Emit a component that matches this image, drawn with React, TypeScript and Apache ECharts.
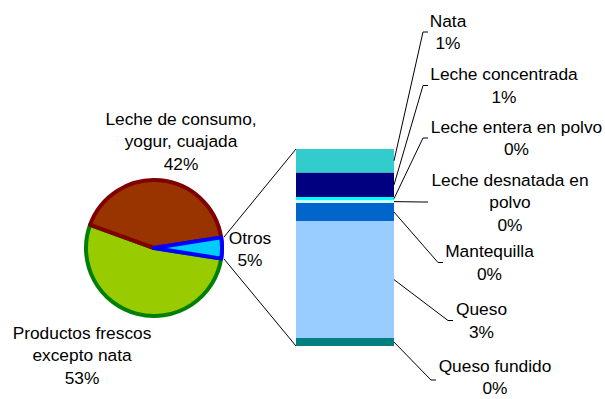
import React, { useEffect, useRef } from 'react';
import * as echarts from 'echarts';

// Pie (main breakdown), drawn clockwise from the "Otros" slice
const pieCategories = ['Otros', 'Productos frescos\nexcepto nata', 'Leche de consumo,\nyogur, cuajada'];
const pieValues = [5, 53, 42];
const pieColors = ['#00CCFF', '#99CC00', '#993300'];
const pieBorderColors = ['#0000FF', '#008000', '#800000'];

// Breakdown of "Otros" (top to bottom of the stacked bar)
const barCategories = [
  'Nata',
  'Leche concentrada',
  'Leche entera en polvo',
  'Leche desnatada en\npolvo',
  'Mantequilla',
  'Queso',
  'Queso fundido',
];
const barValues = [0.6, 0.62, 0.08, 0.07, 0.46, 2.97, 0.2];
const barColors = ['#33CCCC', '#000080', '#00FFFF', '#CCFFFF', '#0066CC', '#99CCFF', '#008080'];

// Layout (label centres and leader-line ends)
const pieCenter = [154, 248];
const pieRadius = 68;
const pieBorder = 4;
const pieLabelPos = [
  [250, 249],
  [82, 355],
  [181, 141],
];
const barLabelPos = [
  [448, 32, 428],
  [504, 85.5, 428],
  [516.5, 138, 428],
  [510, 202, 428],
  [489.5, 262.5, 443],
  [481.5, 320.5, 453],
  [495, 377, 436],
];

const FONT = '"Liberation Sans", Arial, sans-serif';
const FS = 17.33;
const LH = 22.5;

export default function App() {
  const ref = useRef<HTMLDivElement>(null);
  useEffect(() => {
    if (!ref.current) return;
    const chart = echarts.init(ref.current, null, { renderer: 'svg' });
    const pieTotal = pieValues.reduce((a, b) => a + b, 0);
    const otrosShare = pieValues[0] / pieTotal;
    const startAngle = otrosShare * 180;
    const barTotal = barValues.reduce((a, b) => a + b, 0);
    const stackData = barValues.map((v, i) => {
      let below = 0;
      for (let j = i + 1; j < barValues.length; j++) below += barValues[j];
      return [below, below + v];
    });
    const half = otrosShare * Math.PI;
    const R = pieRadius + pieBorder / 2 + 1;
    const edgeTop = [pieCenter[0] + R * Math.cos(half), pieCenter[1] - R * Math.sin(half)];
    const edgeBot = [pieCenter[0] + R * Math.cos(half), pieCenter[1] + R * Math.sin(half)];

    chart.setOption({
      animation: false,
      grid: { left: 296, top: 149, width: 98, height: 197 },
      xAxis: { type: 'value', min: 0, max: 1, show: false },
      yAxis: { type: 'value', min: 0, max: barTotal, show: false },
      series: [
        {
          type: 'pie',
          center: pieCenter,
          radius: pieRadius,
          startAngle,
          clockwise: true,
          avoidLabelOverlap: false,
          percentPrecision: 0,
          silent: true,
          data: pieCategories.map((n, i) => ({
            name: n,
            value: pieValues[i],
            itemStyle: { color: pieColors[i], borderColor: pieBorderColors[i], borderWidth: pieBorder },
          })),
          label: {
            show: true,
            position: 'outside',
            formatter: '{b}\n{d}%',
            color: '#000',
            fontFamily: FONT,
            fontSize: FS,
            lineHeight: LH,
            align: 'center',
          },
          labelLine: { show: false },
          labelLayout: (p: any) => ({
            x: pieLabelPos[p.dataIndex][0],
            y: pieLabelPos[p.dataIndex][1],
            align: 'center',
            verticalAlign: 'middle',
          }),
        },
        {
          type: 'pie',
          center: pieCenter,
          radius: pieRadius,
          startAngle,
          clockwise: true,
          silent: true,
          z: 3,
          data: pieCategories.map((n, i) => ({
            name: n,
            value: pieValues[i],
            itemStyle:
              i === 0
                ? { color: pieColors[i], borderColor: pieBorderColors[i], borderWidth: pieBorder }
                : { color: 'transparent', borderWidth: 0 },
          })),
          label: { show: false },
          labelLine: { show: false },
        },
        {
          type: 'custom',
          silent: true,
          data: stackData,
          renderItem: (params: any, api: any) => {
            const i = params.dataIndex;
            const y0 = api.value(0);
            const y1 = api.value(1);
            const tl = api.coord([0, y1]);
            const br = api.coord([1, y0]);
            const midY = (tl[1] + br[1]) / 2;
            const [tx, ty, lx] = barLabelPos[i];
            const pct = Math.round((barValues[i] / pieTotal) * 100);
            const nameLines = barCategories[i].split('\n').length;
            const nLines = nameLines + 1;
            const lineCenter = (k: number) => ty + (k - (nLines - 1) / 2) * LH;
            const nameCenter = (lineCenter(0) + lineCenter(nameLines - 1)) / 2;
            const lineY = i === barValues.length - 1 ? ty + 3 : ty;
            const children: any[] = [
              {
                type: 'rect',
                shape: { x: tl[0], y: tl[1], width: br[0] - tl[0], height: br[1] - tl[1] },
                style: { fill: barColors[i] },
              },
              {
                type: 'polyline',
                shape: { points: [[br[0], midY], [lx - 5, lineY], [lx, lineY]] },
                style: { stroke: '#000', lineWidth: 1, fill: 'none' },
              },
              {
                type: 'text',
                x: tx,
                y: nameCenter,
                style: {
                  text: barCategories[i],
                  fill: '#000',
                  fontFamily: FONT,
                  fontSize: FS,
                  lineHeight: LH,
                  align: 'center',
                  verticalAlign: 'middle',
                },
              },
              {
                type: 'text',
                x: tx,
                y: lineCenter(nLines - 1),
                style: {
                  text: pct + '%',
                  fill: '#000',
                  fontFamily: FONT,
                  fontSize: FS,
                  lineHeight: 14,
                  align: 'center',
                  verticalAlign: 'middle',
                },
              },
            ];
            if (i === 0) {
              children.push({
                type: 'line',
                shape: { x1: edgeTop[0], y1: edgeTop[1], x2: tl[0], y2: tl[1] },
                style: { stroke: '#000', lineWidth: 1 },
              });
            }
            if (i === barValues.length - 1) {
              children.push({
                type: 'line',
                shape: { x1: edgeBot[0], y1: edgeBot[1], x2: tl[0], y2: br[1] },
                style: { stroke: '#000', lineWidth: 1 },
              });
            }
            return { type: 'group', children };
          },
        },
      ],
    });
    return () => chart.dispose();
  }, []);
  return <div ref={ref} style={{ position: 'absolute', left: 0, top: 0, width: 605, height: 399 }} />;
}
